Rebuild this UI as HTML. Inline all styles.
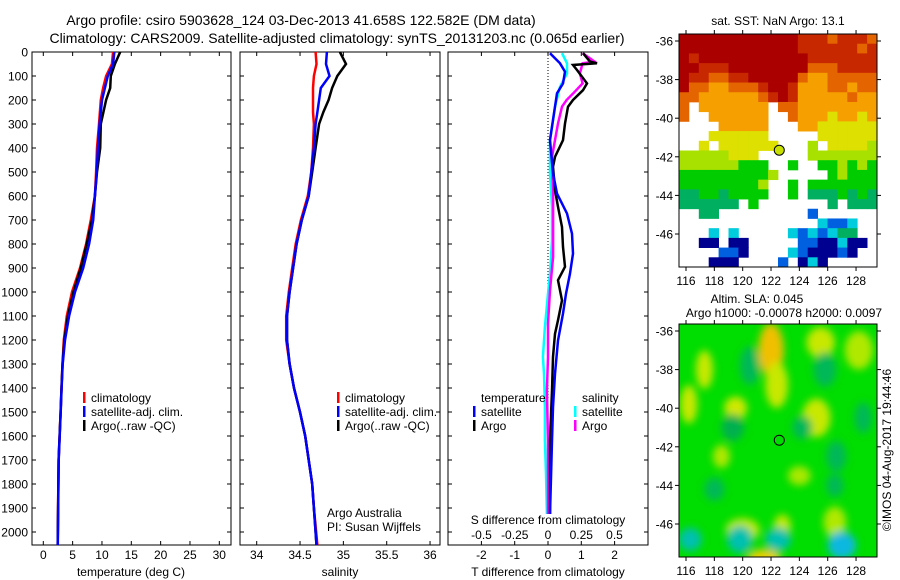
<!DOCTYPE html>
<html><head><meta charset="utf-8">
<style>
html,body{margin:0;padding:0;background:#fff;}
svg{display:block;font-family:"Liberation Sans",sans-serif;}
</style></head>
<body>
<svg id="fig" width="900" height="580" viewBox="0 0 900 580" xmlns="http://www.w3.org/2000/svg">
<defs>
<clipPath id="clipTop"><rect x="679" y="34" width="198" height="233"/></clipPath>
<clipPath id="clipBot"><rect x="679" y="324" width="198" height="233"/></clipPath>
<filter id="blur" x="-50%" y="-50%" width="200%" height="200%"><feGaussianBlur stdDeviation="4"/></filter>
</defs>
<g id="root"></g>
</svg>
<script>
// ---------- DATA ----------
const tDepth = [0,50,100,150,200,300,400,500,600,700,800,900,1000,1100,1200,1300,1400,1500,1700,2054];
const tClim  = [11.9,11.7,10.7,10.2,9.8,9.5,9.15,9.0,8.8,8.1,7.3,6.25,4.9,4.0,3.5,3.27,3.1,2.95,2.6,2.45];
const tSat   = [12.1,11.9,11.0,10.5,10.0,9.6,9.3,9.1,8.8,8.5,7.8,6.8,5.4,4.4,3.7,3.3,3.12,2.97,2.62,2.47];
const tArgo  = [13.1,12.2,11.5,11.4,10.7,9.8,9.7,9.15,8.8,8.3,7.4,6.4,5.15,4.2,3.6,3.27,3.1,2.95,2.6,2.45];
const sDepth = [0,50,100,150,200,250,300,400,500,600,700,800,900,1000,1100,1200,1300,1400,1500,1600,1700,1800,1900,2054];
const sClim  = [34.68,34.69,34.66,34.65,34.65,34.65,34.66,34.65,34.63,34.59,34.51,34.45,34.41,34.37,34.34,34.34,34.38,34.43,34.5,34.56,34.6,34.64,34.66,34.7];
const sSat   = [34.81,34.8,34.84,34.74,34.72,34.7,34.68,34.66,34.63,34.6,34.52,34.46,34.42,34.38,34.35,34.35,34.38,34.43,34.5,34.56,34.6,34.64,34.66,34.69];
const sArgo  = [34.96,35.03,34.93,34.87,34.83,34.77,34.72,34.68,34.64,34.6,34.52,34.46,34.42,34.38,34.35,34.35,34.38,34.43,34.5,34.56,34.6,34.64,34.66,34.69];
const dtSatDepth = [5,47,82,131,172,228,367,506,590,673,757,840,923,1007,1090,1202,1341,1480,1619,1925];
const dtSat = [0.06,0.36,0.51,0.45,0.27,0.21,0.06,0.15,0.27,0.57,0.72,0.75,0.66,0.54,0.45,0.30,0.21,0.15,0.12,0.06];
const dtArgoDepth = [5,40,47,54,75,131,159,200,228,298,367,437,478,576,645,729,812,895,951,1035,1118,1174,1271,1410,1619,1925];
const dtArgo = [1.05,1.26,1.47,0.75,0.87,1.17,1.05,0.75,0.60,0.51,0.45,0.21,0.15,0.21,0.30,0.42,0.45,0.51,0.30,0.42,0.30,0.21,0.15,0.12,0.06,0.06];
const dsSatDepth = [5,47,89,145,228,367,506,645,784,923,1007,1146,1271,1341,1480,1619,1758,1925];
const dsSat = [0.105,0.143,0.143,0.09,0.053,0.015,0.015,0.03,0.03,0.015,0,-0.023,-0.038,-0.03,-0.023,-0.023,-0.015,-0.008];
const dsArgoDepth = [5,40,47,89,131,172,200,228,298,367,437,576,715,854,993,1132,1271,1410,1619,1925];
const dsArgo = [0.26,0.35,0.26,0.24,0.26,0.19,0.14,0.105,0.075,0.053,0.03,0.038,0.038,0.038,0.015,0,0,-0.008,0,0];
const depthTicks = [0,100,200,300,400,500,600,700,800,900,1000,1100,1200,1300,1400,1500,1600,1700,1800,1900,2000];
const tTicks = [0,5,10,15,20,25,30];
const sTicks = [34,34.5,35,35.5,36];
const dtTicks = [-2,-1,0,1,2];
const dsTicks = [-0.5,-0.25,0,0.25,0.5];
const lonTicks = [116,118,120,122,124,126,128];
const latTicks = [-36,-38,-40,-42,-44,-46];
const argoLon = 122.582, argoLat = -41.658;
const sstGrid = [
"DDDDDDDDDDDDRRRORRRO",
"DDDDDDDDDDDDRRRRRROR",
"DRDDDDDDDDDDDRRRRRRR",
"DDRRRDDDDDDDDOOORRRR",
"DRROORRDDDDDOAAOOOOO",
"DOOAAOOORDDRAAAOOAOO",
"OOAAAAAAORDRAAAAAOAA",
"O.AAAAAAA.OOAAAAAAAA",
"O..AAAAAA..OAAAYAAYA",
"....AAAAA...AAYYYYYY",
"...YYYYYY.....YYYYYY",
"..Y.YYYYYY...L.YYYYL",
"LLLLLYYY.....LLLLLLL",
"LLLLLLGGG..G..GGLGLG",
"GGGGGGGGGL.....GLGGG",
"GGGGGGGGL..G.GGGGGGG",
"TTGGTGGGG..G.TTTGTGT",
"TTTTTT.G.......T.TTT",
"..TT.........B......",
"..............CBBC..",
"...C.C.....CBCBCTT..",
"..NN.NN.....BBNNCNN.",
"....BBN....CBNNNBN..",
"...NNN....B.NCN....."];
const sstColors = {D:"#aa0000",R:"#c82800",O:"#e46400",A:"#f5a000",Y:"#dde000",L:"#a8e000",G:"#00cc00",T:"#00b060",C:"#00ccdd",B:"#0060e0",N:"#000090"};
const slaBlobs = [
[122.0,-37.0,0.9,1.4,"#f0c000"],[122.4,-38.8,0.8,1.2,"#c8e800"],[125.5,-36.6,1.0,0.8,"#c8e800"],
[117.3,-38.0,0.6,1.0,"#c8e800"],[116.2,-39.8,0.6,1.0,"#c8e800"],[119.5,-40.0,0.8,0.6,"#d0e800"],
[125.2,-40.5,1.0,1.0,"#c8e800"],[128.2,-37.0,1.0,1.0,"#b0e800"],[120.0,-46.3,1.2,0.6,"#c0e800"],
[122.8,-46.1,0.6,0.6,"#c0e800"],[126.5,-45.9,0.8,0.8,"#b0e800"],[121.5,-47.8,1.2,0.5,"#e8d000"],
[118.5,-42.5,0.6,0.6,"#b0e800"],[124.0,-43.5,0.8,0.5,"#a8e800"],
[119.3,-41.0,0.8,0.7,"#00b050"],[124.2,-41.0,0.7,0.6,"#00b858"],[120.5,-37.8,0.7,1.0,"#00b858"],
[126.6,-42.5,0.7,0.8,"#00b858"],[125.8,-38.0,0.8,0.9,"#00b858"],[118.0,-44.2,0.7,0.6,"#00b858"],
[128.5,-40.5,0.6,0.8,"#00b858"],[126.5,-44.0,0.6,0.6,"#00b858"],
[116.3,-46.8,0.8,0.6,"#00c0b0"],[119.8,-46.8,0.9,0.7,"#00c0b0"],[122.5,-46.8,0.9,0.6,"#00c0b0"],[127.0,-47.1,1.0,0.7,"#10b8e0"]];

// ---------- HELPERS ----------
const NS="http://www.w3.org/2000/svg";
const root=document.getElementById('root');
function mk(tag,attrs,parent){const e=document.createElementNS(NS,tag);for(const k in attrs)e.setAttribute(k,attrs[k]);(parent||root).appendChild(e);return e;}
function txt(x,y,s,anchor,size,parent){const t=mk('text',{x:x,y:y,'text-anchor':anchor||'start','font-size':size||12,fill:'#000'},parent);t.textContent=s;return t;}

const yD = d => 52 + d*0.24;
const xT = v => 43.3 + v*5.867;
const xS = v => 256.7 + (v-34)*86.67;
const xDT = v => 548 + v*33.3;
const xDS = v => 548 + v*133;
const mapX = lon => 686 + (lon-116)*14.17;
const mapYTop = lat => 41 + (-36-lat)*19.3;
const mapYBot = lat => 331 + (-36-lat)*19.3;

function line(xs,ds,xf,color,name,w){
  const p=xs.map((v,i)=>xf(v).toFixed(1)+','+yD(ds[i]).toFixed(1)).join(' ');
  const e=mk('polyline',{points:p,fill:'none',stroke:color,'stroke-width':w||2.5,'stroke-linejoin':'miter'});
  
  
}

// ---------- TITLES ----------
let t1=txt(301,25,"Argo profile: csiro 5903628_124 03-Dec-2013 41.658S 122.582E (DM data)","middle",14);


let t2=txt(337,43,"Climatology: CARS2009. Satellite-adjusted climatology: synTS_20131203.nc (0.065d earlier)","middle",14);



// ---------- PANEL FRAMES ----------
const panels=[{x0:32,x1:231,name:'temperature-panel'},{x0:240,x1:440,name:'salinity-panel'},{x0:448,x1:648,name:'difference-panel'}];
panels.forEach(p=>{
  const r=mk('rect',{x:p.x0,y:52,width:p.x1-p.x0,height:493,fill:'none',stroke:'#000','stroke-width':1});
  
  
  depthTicks.forEach(d=>{
    mk('line',{x1:p.x0,x2:p.x0+4,y1:yD(d),y2:yD(d),stroke:'#000'});
    mk('line',{x1:p.x1-4,x2:p.x1,y1:yD(d),y2:yD(d),stroke:'#000'});
  });
});
depthTicks.forEach(d=>{
  const l=txt(28,yD(d)+4.5,String(d),'end',12);
  
  
});
function xticks(ticks,xf,fmt,ly){
  ticks.forEach(v=>{
    const x=xf(v);
    mk('line',{x1:x,x2:x,y1:545,y2:541,stroke:'#000'});
    mk('line',{x1:x,x2:x,y1:52,y2:56,stroke:'#000'});
    const l=txt(x,ly,fmt(v),'middle',12);
    
    
  });
}
xticks(tTicks,xT,String,559);
xticks(sTicks,xS,String,559);
xticks(dtTicks,xDT,String,559);
dsTicks.forEach(v=>{
  const l=txt(xDS(v),539,String(v),'middle',12);
  
  
});
let a1=txt(131,576,"temperature (deg C)","middle",12);
let a2=txt(340,576,"salinity","middle",12);
let a3=txt(548,576,"T difference from climatology","middle",12);
let a4=txt(548,524,"S difference from climatology","middle",12);

const zl=mk('line',{x1:548,x2:548,y1:52,y2:400,stroke:'#000','stroke-dasharray':'1,2','stroke-width':1});



// ---------- SERIES ----------
line(tClim,tDepth,xT,'#ff0000','temp-climatology-line');
line(tArgo,tDepth,xT,'#000000','temp-argo-line');
line(tSat,tDepth,xT,'#0000ff','temp-satellite-line');
line(sClim,sDepth,xS,'#ff0000','sal-climatology-line');
line(sArgo,sDepth,xS,'#000000','sal-argo-line');
line(sSat,sDepth,xS,'#0000ff','sal-satellite-line');
line(dsSat,dsSatDepth,xDS,'#00ffff','sdiff-satellite-line');
line(dsArgo,dsArgoDepth,xDS,'#ff00ff','sdiff-argo-line');
line(dtArgo,dtArgoDepth,xDT,'#000000','tdiff-argo-line');
line(dtSat,dtSatDepth,xDT,'#0000ff','tdiff-satellite-line');

// ---------- LEGENDS ----------
function legItem(x,y,color,label,name){
  const g=mk('g',{});
  
  
  if(color) mk('rect',{x:x,y:y-10,width:2.5,height:11,fill:color},g);
  txt(x+8,y,label,'start',12,g);
}
legItem(83,402,'#ff0000','climatology','legend-climatology');
legItem(83,416,'#0000ff','satellite-adj. clim.','legend-satellite');
legItem(83,430,'#000000','Argo(..raw -QC)','legend-argo');
legItem(337,402,'#ff0000','climatology','legend-climatology-sal');
legItem(337,416,'#0000ff','satellite-adj. clim.','legend-satellite-sal');
legItem(337,430,'#000000','Argo(..raw -QC)','legend-argo-sal');
legItem(473,402,null,'temperature','legend-temperature-heading');
legItem(473,416,'#0000ff','satellite','legend-t-satellite');
legItem(473,430,'#000000','Argo','legend-t-argo');
legItem(574,402,null,'salinity','legend-salinity-heading');
legItem(574,416,'#00ffff','satellite','legend-s-satellite');
legItem(574,430,'#ff00ff','Argo','legend-s-argo');
let c1=txt(327,517,"Argo Australia","start",12);
let c2=txt(327,531,"PI: Susan Wijffels","start",12);

// ---------- MAPS ----------
function mapAxes(yf,top,name){
  const r=mk('rect',{x:679,y:top,width:198,height:233,fill:'none',stroke:'#000','stroke-width':1});
  
  
  lonTicks.forEach(l=>{
    const x=mapX(l);
    mk('line',{x1:x,x2:x,y1:top,y2:top-4,stroke:'#000'});
    mk('line',{x1:x,x2:x,y1:top+233,y2:top+237,stroke:'#000'});
    const t=txt(x,top+251,String(l),'middle',12);
    
    
  });
  latTicks.forEach(l=>{
    const y=yf(l);
    mk('line',{x1:679,x2:675,y1:y,y2:y,stroke:'#000'});
    mk('line',{x1:877,x2:881,y1:y,y2:y,stroke:'#000'});
    const t=txt(673,y+4.5,String(l),'end',12);
    
    
  });
}
const gTop=mk('g',{'clip-path':'url(#clipTop)'});


const cw=198/20, ch=233/24;
sstGrid.forEach((row,r)=>{[...row].forEach((c,i)=>{
  if(c!=='.') mk('rect',{x:(679+i*cw).toFixed(2),y:(34+r*ch).toFixed(2),width:(cw+0.4).toFixed(2),height:(ch+0.4).toFixed(2),fill:sstColors[c]},gTop);
});});
mapAxes(mapYTop,34,'sst-map-frame');
const m1=mk('circle',{cx:mapX(argoLon),cy:mapYTop(argoLat),r:5,fill:'#c8e000',stroke:'#000','stroke-width':1});


let mt1=txt(778,25,"sat. SST: NaN Argo: 13.1","middle",12);

const gBot=mk('g',{'clip-path':'url(#clipBot)'});


mk('rect',{x:679,y:324,width:198,height:233,fill:'#00dd00'},gBot);
const gBl=mk('g',{filter:'url(#blur)'},gBot);
slaBlobs.forEach(b=>{
  mk('ellipse',{cx:mapX(b[0]),cy:mapYBot(b[1]),rx:b[2]*14.17,ry:b[3]*19.3,fill:b[4]},gBl);
});
mapAxes(mapYBot,324,'sla-map-frame');
const m2=mk('circle',{cx:mapX(argoLon),cy:mapYBot(argoLat),r:5,fill:'none',stroke:'#000','stroke-width':1});


let mt2=txt(757,303,"Altim. SLA: 0.045","middle",12);
let mt3=txt(784,317,"Argo h1000: -0.00078 h2000: 0.0097","middle",12);
let cp=txt(0,0,"©IMOS 04-Aug-2017 19:44:46","middle",12);
cp.setAttribute('transform','translate(891,450) rotate(-90)');


</script>
</body></html>
